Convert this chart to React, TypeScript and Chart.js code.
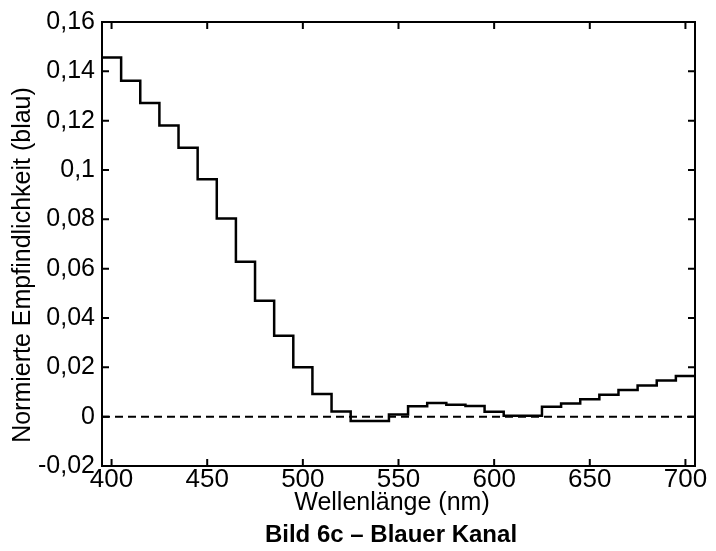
import React, { useEffect, useRef } from 'react';
import { Chart, registerables } from 'chart.js';

Chart.register(...registerables);

// Band centres (nm) and normalised sensitivity of the blue channel
const wavelengths = [400, 410, 420, 430, 440, 450, 460, 470, 480, 490, 500, 510, 520, 530, 540, 550, 560, 570, 580, 590, 600, 610, 620, 630, 640, 650, 660, 670, 680, 690, 700];
const sensitivity = [0.1456, 0.1362, 0.1272, 0.1180, 0.1090, 0.0963, 0.0803, 0.0628, 0.0470, 0.0328, 0.0200, 0.0092, 0.0021, -0.0018, -0.0018, 0.0009, 0.0042, 0.0055, 0.0048, 0.0043, 0.0020, 0.0004, 0.0004, 0.0040, 0.0053, 0.0071, 0.0089, 0.0108, 0.0126, 0.0147, 0.0165];
const binWidth = 10;

const xMin = 395;
const xMax = 705;
const yMin = -0.02;
const yMax = 0.16;

const xTicks = [400, 450, 500, 550, 600, 650, 700];
const yTicks = [-0.02, 0, 0.02, 0.04, 0.06, 0.08, 0.1, 0.12, 0.14, 0.16];
const yTickLabels = ['-0,02', '0', '0,02', '0,04', '0,06', '0,08', '0,1', '0,12', '0,14', '0,16'];

const zeroLine = [0, 0];

const yAxisTitle = 'Normierte Empfindlichkeit (blau)';
const xAxisTitle = 'Wellenlänge (nm)';
const caption = 'Bild 6c – Blauer Kanal';

const FONT = '"Liberation Sans", Arial, Helvetica, sans-serif';

const framePlugin = {
  id: 'frameAndTitles',
  afterDatasetsDraw(chart: any) {
    const { ctx, chartArea: a, scales } = chart;
    const x = scales.x;
    const y = scales.y;
    ctx.save();
    ctx.strokeStyle = '#000';
    ctx.lineWidth = 2;
    ctx.strokeRect(a.left, a.top, a.right - a.left, a.bottom - a.top);
    const L = 7;
    ctx.beginPath();
    for (const v of xTicks) {
      const px = x.getPixelForValue(v);
      ctx.moveTo(px, a.bottom);
      ctx.lineTo(px, a.bottom - L);
      ctx.moveTo(px, a.top);
      ctx.lineTo(px, a.top + L);
    }
    for (const v of yTicks) {
      const py = y.getPixelForValue(v);
      ctx.moveTo(a.left, py);
      ctx.lineTo(a.left + L, py);
      ctx.moveTo(a.right, py);
      ctx.lineTo(a.right - L, py);
    }
    ctx.stroke();

    ctx.fillStyle = '#000';
    ctx.textAlign = 'center';
    ctx.textBaseline = 'middle';
    ctx.font = '25px ' + FONT;
    ctx.fillText(xAxisTitle, 392, 503);
    ctx.font = 'bold 24px ' + FONT;
    ctx.fillText(caption, 391, 535);

    ctx.translate(23.5, 265);
    ctx.rotate(-Math.PI / 2);
    ctx.font = '25px ' + FONT;
    ctx.fillText(yAxisTitle, 0, 0);
    ctx.restore();
  },
};

export default function App() {
  const ref = useRef<HTMLCanvasElement | null>(null);

  useEffect(() => {
    document.body.style.margin = '0';
    const canvas = ref.current;
    if (!canvas) return;

    const stepData = wavelengths.map((w, i) => ({ x: w - binWidth / 2, y: sensitivity[i] }));
    stepData.push({
      x: wavelengths[wavelengths.length - 1] + binWidth / 2,
      y: sensitivity[sensitivity.length - 1],
    });

    const chart = new Chart(canvas, {
      type: 'line',
      data: {
        datasets: [
          {
            data: stepData,
            stepped: true,
            borderColor: '#000',
            borderWidth: 2.5,
            pointRadius: 0,
            fill: false,
          },
          {
            data: [
              { x: xMin, y: zeroLine[0] },
              { x: xMax, y: zeroLine[1] },
            ],
            borderColor: '#000',
            borderWidth: 2,
            borderDash: [8, 5],
            pointRadius: 0,
            fill: false,
          },
        ],
      },
      options: {
        animation: false,
        responsive: false,
        devicePixelRatio: 1,
        layout: { padding: { top: 22, right: 21, bottom: 0, left: 0 } },
        plugins: {
          legend: { display: false },
          tooltip: { enabled: false },
          title: { display: false },
        },
        scales: {
          x: {
            type: 'linear',
            min: xMin,
            max: xMax,
            afterBuildTicks: (s: any) => {
              s.ticks = xTicks.map((v) => ({ value: v }));
            },
            afterFit: (s: any) => {
              s.height = 85;
            },
            grid: { display: false, drawTicks: false },
            border: { display: false },
            ticks: {
              color: '#000',
              padding: 1,
              maxRotation: 0,
              autoSkip: false,
              font: { family: FONT, size: 26, lineHeight: 1 },
              callback: (v: any) => String(v),
            },
          },
          y: {
            type: 'linear',
            min: yMin,
            max: yMax,
            afterBuildTicks: (s: any) => {
              s.ticks = yTicks.map((v) => ({ value: v }));
            },
            afterFit: (s: any) => {
              s.width = 102;
            },
            grid: { display: false, drawTicks: false },
            border: { display: false },
            ticks: {
              color: '#000',
              padding: 7,
              autoSkip: false,
              font: { family: FONT, size: 25, lineHeight: 1 },
              callback: (_v: any, i: number) => yTickLabels[i],
            },
          },
        },
      },
      plugins: [framePlugin],
    });

    return () => chart.destroy();
  }, []);

  return (
    <div style={{ width: 716, height: 551, background: '#fff' }}>
      <canvas ref={ref} width={716} height={551} style={{ display: 'block' }} />
    </div>
  );
}
